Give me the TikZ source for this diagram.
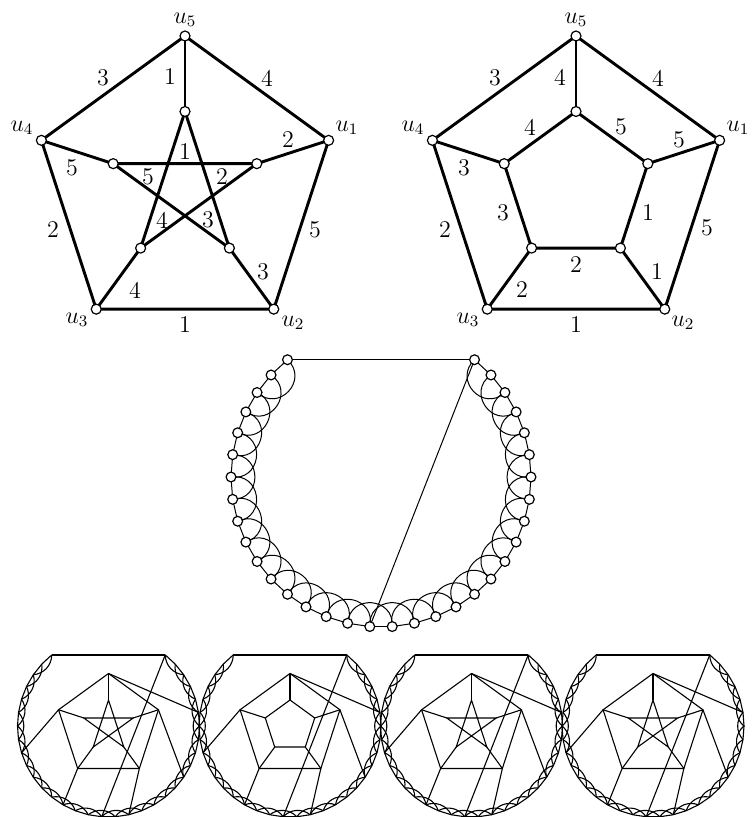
\documentclass[tikz,border=0pt]{standalone}
\usetikzlibrary{calc}
\begin{document}
\begin{tikzpicture}[x=0.5pt,y=-0.5pt,
  bigv/.style={circle,draw,fill=white,inner sep=0pt,minimum size=5pt,line width=0.6pt},
  smallv/.style={circle,draw,fill=white,inner sep=0pt,minimum size=4.9pt,line width=0.6pt},
  thickedge/.style={line width=1.45pt},
  thinedge/.style={line width=0.5pt},
  panedge/.style={line width=0.55pt},
  lab/.style={font=\large,inner sep=0pt},
]
\useasboundingbox (0,0) rectangle (751,817);

% ---------------- top graphs ----------------
\foreach \g/\cx in {L/185,R/576} {
  \foreach \i/\a in {1/18,2/-54,3/-126,4/162,5/90} {
    \coordinate (\g u\i) at ({\cx+151*cos(\a)},{187-151*sin(\a)});
    \coordinate (\g v\i) at ({\cx+75.5*cos(\a)},{187-75.5*sin(\a)});
  }
  \draw[thickedge] (\g u1)--(\g u2)--(\g u3)--(\g u4)--(\g u5)--cycle;
  \foreach \i in {1,...,5} \draw[thickedge] (\g u\i)--(\g v\i);
}
\draw[thickedge] (Lv1)--(Lv3)--(Lv5)--(Lv2)--(Lv4)--cycle;
\draw[thickedge] (Rv1)--(Rv2)--(Rv3)--(Rv4)--(Rv5)--cycle;
\foreach \g in {L,R} \foreach \i in {1,...,5} {
  \node[bigv] (\g nu\i) at (\g u\i) {};
  \node[bigv] (\g nv\i) at (\g v\i) {};
}
% labels left
\node[lab] (Llu5) at (185,20) {$u_5$};
\node[lab] (Llu1) at (347,128) {$u_1$};
\node[lab] (Llu4) at (22,128) {$u_4$};
\node[lab] (Llu3) at (77,320) {$u_3$};
\node[lab] (Llu2) at (293,323) {$u_2$};
\node[lab] (La1) at (103,78) {3};
\node[lab] (La2) at (267,78) {4};
\node[lab] (La3) at (315,230) {5};
\node[lab] (La4) at (185,325) {1};
\node[lab] (La5) at (53,230) {2};
\node[lab] (La6) at (170,77) {1};
\node[lab] (La7) at (288,140) {2};
\node[lab] (La8) at (263,272) {3};
\node[lab] (La9) at (135,290) {4};
\node[lab] (La10) at (72,168) {5};
\node[lab] (La11) at (185,152) {1};
\node[lab] (La12) at (148,177) {5};
\node[lab] (La13) at (222,177) {2};
\node[lab] (La14) at (162,220) {4};
\node[lab] (La15) at (208,220) {3};
% labels right
\node[lab] (Rlu5) at (576,20) {$u_5$};
\node[lab] (Rlu1) at (738,128) {$u_1$};
\node[lab] (Rlu4) at (413,128) {$u_4$};
\node[lab] (Rlu3) at (468,320) {$u_3$};
\node[lab] (Rlu2) at (683,323) {$u_2$};
\node[lab] (Ra1) at (495,78) {3};
\node[lab] (Ra2) at (658,78) {4};
\node[lab] (Ra3) at (707,228) {5};
\node[lab] (Ra4) at (576,325) {1};
\node[lab] (Ra5) at (445,230) {2};
\node[lab] (Ra6) at (560,77) {4};
\node[lab] (Ra7) at (679,140) {5};
\node[lab] (Ra8) at (657,272) {1};
\node[lab] (Ra9) at (522,290) {2};
\node[lab] (Ra10) at (464,168) {3};
\node[lab] (Ra11) at (530,127) {4};
\node[lab] (Ra12) at (621,127) {5};
\node[lab] (Ra13) at (648,213) {1};
\node[lab] (Ra14) at (576,265) {2};
\node[lab] (Ra15) at (503,213) {3};

% ---------------- middle ring ----------------
\foreach \k in {0,...,33}
  \coordinate (M\k) at ({381+150*cos(128.5714+8.5714*\k)},{477-150*sin(128.5714+8.5714*\k)});
\foreach \k [evaluate=\k as \n using int(\k+1)] in {0,...,32}
  \draw[thinedge] (M\k)--(M\n);
\foreach \k [evaluate=\k as \n using int(\k+2)] in {0,...,31}
  \draw[thinedge] (M\k) to[bend left=90,looseness=1.7] (M\n);
\draw[thinedge] (M0)--(M33);
\draw[thinedge] (M33)--(M16);
\foreach \k in {0,...,33} \node[smallv] (MV\k) at (M\k) {};

% ---------------- bottom panels ----------------
\foreach \p/\cx/\typ in {1/108.5/0,2/290/1,3/471.5/0,4/653/0} {
  \foreach \k in {0,...,33}
    \coordinate (P\p r\k) at ({\cx+91*cos(128.5714+8.5714*\k)},{726-91*sin(128.5714+8.5714*\k)});
  \foreach \k [evaluate=\k as \n using int(\k+1)] in {0,...,32}
    \draw[panedge] (P\p r\k)--(P\p r\n);
  \foreach \k [evaluate=\k as \n using int(\k+2)] in {0,...,31}
    \draw[panedge] (P\p r\k) to[bend left=42] (P\p r\n);
  \draw[line width=0.7pt] (P\p r0)--(P\p r33);
  \draw[panedge] (P\p r33)--(P\p r16);
  \foreach \i/\a in {1/18,2/-54,3/-126,4/162,5/90} {
    \coordinate (P\p u\i) at ({\cx+52.5*cos(\a)},{726-52.5*sin(\a)});
    \coordinate (P\p v\i) at ({\cx+26*cos(\a)},{726-26*sin(\a)});
  }
  \draw[panedge] (P\p u1)--(P\p u2)--(P\p u3)--(P\p u4)--(P\p u5)--cycle;
  \foreach \i in {1,...,5} \draw[panedge] (P\p u\i)--(P\p v\i);
  \ifnum\typ=1
    \draw[panedge] (P\p v1)--(P\p v2)--(P\p v3)--(P\p v4)--(P\p v5)--cycle;
  \else
    \draw[panedge] (P\p v1)--(P\p v3)--(P\p v5)--(P\p v2)--(P\p v4)--cycle;
  \fi
  \draw[panedge] (P\p u5)--(P\p r28);
  \draw[panedge] (P\p u1)--(P\p r23);
  \draw[panedge] (P\p u2)--(P\p r18);
  \draw[panedge] (P\p u3)--(P\p r13);
  \draw[panedge] (P\p u4)--(P\p r8);
}
\end{tikzpicture}
\end{document}
